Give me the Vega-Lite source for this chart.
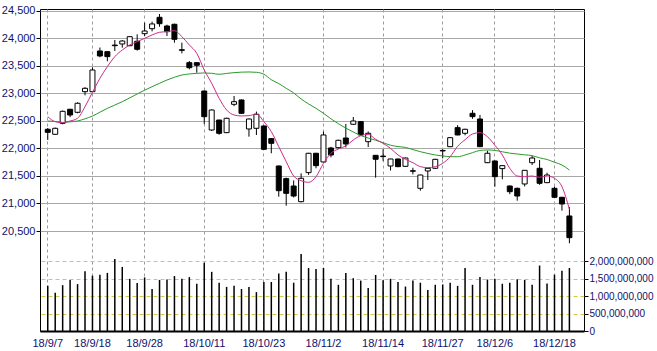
{
 "$schema": "https://vega.github.io/schema/vega-lite/v6.json",
 "width": 544, "height": 322,
 "autosize": {"type": "none"},
 "padding": {"left": 40, "top": 9, "right": 73, "bottom": 20},
 "background": "white",
 "config": {
  "view": {"stroke": "black", "strokeWidth": 1},
  "axis": {"labelFont": "Liberation Sans", "labelColor": "#10106a", "labelFontSize": 11}
 },
 "data": {"values": [
  {"d":"18/9/7","o":22349,"h":22373,"l":22155,"c":22294,"v":1290000000,"m5":22578,"m25":22500},
  {"d":"18/9/10","o":22258,"h":22380,"l":22250,"c":22367,"v":1090000000,"m5":22488,"m25":22490},
  {"d":"18/9/11","o":22458,"h":22690,"l":22440,"c":22676,"v":1310000000,"m5":22470,"m25":22475},
  {"d":"18/9/12","o":22713,"h":22720,"l":22570,"c":22609,"v":1460000000,"m5":22500,"m25":22485},
  {"d":"18/9/13","o":22658,"h":22840,"l":22640,"c":22822,"v":1340000000,"m5":22549,"m25":22500},
  {"d":"18/9/14","o":23033,"h":23115,"l":22967,"c":23094,"v":1710000000,"m5":22760,"m25":22540},
  {"d":"18/9/18","o":23033,"h":23476,"l":23025,"c":23427,"v":1580000000,"m5":23022,"m25":22590},
  {"d":"18/9/19","o":23773,"h":23836,"l":23658,"c":23682,"v":1610000000,"m5":23276,"m25":22660},
  {"d":"18/9/20","o":23760,"h":23765,"l":23585,"c":23670,"v":1660000000,"m5":23488,"m25":22730},
  {"d":"18/9/21","o":23880,"h":23973,"l":23773,"c":23869,"v":2060000000,"m5":23670,"m25":22790},
  {"d":"18/9/25","o":23900,"h":23970,"l":23833,"c":23954,"v":1830000000,"m5":23791,"m25":22851},
  {"d":"18/9/26","o":23869,"h":24040,"l":23860,"c":24033,"v":1490000000,"m5":23882,"m25":22920},
  {"d":"18/9/27","o":23949,"h":24076,"l":23779,"c":23804,"v":1370000000,"m5":23942,"m25":22991},
  {"d":"18/9/28","o":24087,"h":24287,"l":24045,"c":24136,"v":1530000000,"m5":24003,"m25":23060},
  {"d":"18/10/1","o":24178,"h":24306,"l":24130,"c":24264,"v":1200000000,"m5":24064,"m25":23124},
  {"d":"18/10/2","o":24385,"h":24445,"l":24215,"c":24269,"v":1460000000,"m5":24113,"m25":23185},
  {"d":"18/10/3","o":24227,"h":24250,"l":24045,"c":24124,"v":1470000000,"m5":24124,"m25":23245},
  {"d":"18/10/4","o":24258,"h":24270,"l":23924,"c":23985,"v":1570000000,"m5":24142,"m25":23295},
  {"d":"18/10/5","o":23795,"h":23924,"l":23730,"c":23785,"v":1490000000,"m5":24033,"m25":23336},
  {"d":"18/10/9","o":23560,"h":23590,"l":23440,"c":23469,"v":1540000000,"m5":23882,"m25":23355},
  {"d":"18/10/10","o":23560,"h":23570,"l":23378,"c":23513,"v":1350000000,"m5":23730,"m25":23367},
  {"d":"18/10/11","o":23045,"h":23050,"l":22446,"c":22578,"v":1950000000,"m5":23427,"m25":23373},
  {"d":"18/10/12","o":22336,"h":22710,"l":22320,"c":22700,"v":1690000000,"m5":23185,"m25":23367},
  {"d":"18/10/15","o":22518,"h":22520,"l":22251,"c":22276,"v":1380000000,"m5":22912,"m25":23349},
  {"d":"18/10/16","o":22288,"h":22560,"l":22280,"c":22549,"v":1260000000,"m5":22700,"m25":23365},
  {"d":"18/10/17","o":22803,"h":22955,"l":22770,"c":22851,"v":1290000000,"m5":22609,"m25":23379},
  {"d":"18/10/18","o":22882,"h":22890,"l":22630,"c":22640,"v":1200000000,"m5":22591,"m25":23388},
  {"d":"18/10/19","o":22355,"h":22545,"l":22215,"c":22536,"v":1260000000,"m5":22597,"m25":23391},
  {"d":"18/10/22","o":22367,"h":22671,"l":22245,"c":22622,"v":1110000000,"m5":22627,"m25":23385},
  {"d":"18/10/23","o":22409,"h":22420,"l":21975,"c":21985,"v":1400000000,"m5":22488,"m25":23350},
  {"d":"18/10/24","o":22179,"h":22190,"l":21913,"c":22094,"v":1400000000,"m5":22306,"m25":23250},
  {"d":"18/10/25","o":21682,"h":21690,"l":21124,"c":21233,"v":1640000000,"m5":22033,"m25":23180},
  {"d":"18/10/26","o":21452,"h":21470,"l":20960,"c":21185,"v":1690000000,"m5":21761,"m25":23094},
  {"d":"18/10/29","o":21318,"h":21420,"l":21110,"c":21136,"v":1380000000,"m5":21500,"m25":23010},
  {"d":"18/10/30","o":21033,"h":21549,"l":21020,"c":21458,"v":2200000000,"m5":21415,"m25":22900},
  {"d":"18/10/31","o":21561,"h":21920,"l":21520,"c":21913,"v":1800000000,"m5":21385,"m25":22810},
  {"d":"18/11/1","o":21913,"h":21920,"l":21640,"c":21688,"v":1770000000,"m5":21488,"m25":22730},
  {"d":"18/11/2","o":21755,"h":22306,"l":21745,"c":22246,"v":1800000000,"m5":21730,"m25":22640},
  {"d":"18/11/5","o":22009,"h":22030,"l":21840,"c":21882,"v":1490000000,"m5":21913,"m25":22540},
  {"d":"18/11/6","o":22015,"h":22160,"l":22000,"c":22149,"v":1320000000,"m5":21991,"m25":22450},
  {"d":"18/11/7","o":22191,"h":22446,"l":22020,"c":22082,"v":1660000000,"m5":22046,"m25":22370},
  {"d":"18/11/8","o":22440,"h":22573,"l":22430,"c":22500,"v":1510000000,"m5":22155,"m25":22300},
  {"d":"18/11/9","o":22488,"h":22500,"l":22230,"c":22246,"v":1440000000,"m5":22233,"m25":22235},
  {"d":"18/11/12","o":22124,"h":22310,"l":22027,"c":22276,"v":1230000000,"m5":22258,"m25":22190},
  {"d":"18/11/13","o":21876,"h":21880,"l":21470,"c":21804,"v":1600000000,"m5":22167,"m25":22150},
  {"d":"18/11/14","o":21862,"h":21985,"l":21776,"c":21852,"v":1450000000,"m5":22094,"m25":22105},
  {"d":"18/11/15","o":21682,"h":21815,"l":21600,"c":21809,"v":1490000000,"m5":22003,"m25":22060},
  {"d":"18/11/16","o":21809,"h":21815,"l":21660,"c":21670,"v":1400000000,"m5":21882,"m25":22035},
  {"d":"18/11/19","o":21676,"h":21835,"l":21665,"c":21827,"v":1270000000,"m5":21803,"m25":22020},
  {"d":"18/11/20","o":21595,"h":21650,"l":21530,"c":21587,"v":1440000000,"m5":21742,"m25":21980},
  {"d":"18/11/21","o":21276,"h":21525,"l":21233,"c":21518,"v":1380000000,"m5":21670,"m25":21942},
  {"d":"18/11/22","o":21591,"h":21650,"l":21427,"c":21640,"v":1170000000,"m5":21652,"m25":21910},
  {"d":"18/11/26","o":21640,"h":21812,"l":21630,"c":21803,"v":1320000000,"m5":21670,"m25":21882},
  {"d":"18/11/27","o":21955,"h":21985,"l":21821,"c":21965,"v":1330000000,"m5":21730,"m25":21865},
  {"d":"18/11/28","o":22033,"h":22205,"l":22025,"c":22197,"v":1380000000,"m5":21851,"m25":21851},
  {"d":"18/11/29","o":22379,"h":22425,"l":22240,"c":22246,"v":1290000000,"m5":22040,"m25":21851},
  {"d":"18/11/30","o":22276,"h":22360,"l":22240,"c":22349,"v":1800000000,"m5":22160,"m25":21882},
  {"d":"18/12/3","o":22640,"h":22697,"l":22540,"c":22579,"v":1320000000,"m5":22264,"m25":21924},
  {"d":"18/12/4","o":22536,"h":22610,"l":22025,"c":22033,"v":1540000000,"m5":22288,"m25":21965},
  {"d":"18/12/5","o":21742,"h":21960,"l":21735,"c":21913,"v":1470000000,"m5":22215,"m25":21973},
  {"d":"18/12/6","o":21773,"h":21780,"l":21306,"c":21488,"v":1490000000,"m5":22060,"m25":21965},
  {"d":"18/12/7","o":21634,"h":21700,"l":21440,"c":21688,"v":1350000000,"m5":21882,"m25":21940},
  {"d":"18/12/10","o":21318,"h":21330,"l":21170,"c":21215,"v":1380000000,"m5":21640,"m25":21915},
  {"d":"18/12/11","o":21276,"h":21290,"l":21051,"c":21136,"v":1480000000,"m5":21500,"m25":21900},
  {"d":"18/12/12","o":21355,"h":21610,"l":21310,"c":21603,"v":1460000000,"m5":21488,"m25":21885},
  {"d":"18/12/13","o":21742,"h":21864,"l":21700,"c":21827,"v":1320000000,"m5":21500,"m25":21870},
  {"d":"18/12/14","o":21640,"h":21791,"l":21340,"c":21367,"v":1870000000,"m5":21476,"m25":21830},
  {"d":"18/12/17","o":21379,"h":21560,"l":21370,"c":21518,"v":1360000000,"m5":21500,"m25":21800},
  {"d":"18/12/18","o":21276,"h":21306,"l":21100,"c":21113,"v":1610000000,"m5":21458,"m25":21750},
  {"d":"18/12/19","o":21113,"h":21120,"l":20870,"c":20991,"v":1720000000,"m5":21306,"m25":21700},
  {"d":"18/12/20","o":20773,"h":20936,"l":20277,"c":20379,"v":1800000000,"m5":20894,"m25":21609}
 ]},
 "encoding": {
  "x": {"field": "d", "type": "ordinal", "sort": null, "title": null,
   "scale": {"type": "band", "paddingInner": 0, "paddingOuter": 1, "align": 0.27},
   "axis": {"values": ["18/9/7","18/9/18","18/9/28","18/10/11","18/10/23","18/11/2","18/11/14","18/11/27","18/12/6","18/12/18"],
    "bandPosition": 0.5, "labelAngle": 0, "labelOverlap": false, "ticks": false, "labelPadding": 6,
    "grid": true, "gridColor": "#9a9a9a", "gridDash": [3,3], "gridWidth": 1,
    "domain": true, "domainColor": "black", "domainWidth": 2, "title": null}}
 },
 "layer": [
  {"layer": [
   {"mark": {"type": "rule", "color": "black", "strokeWidth": 1},
    "encoding": {
     "y": {"field": "l", "type": "quantitative", "title": null,
      "scale": {"domain": [18682, 24536], "nice": false, "zero": false},
      "axis": {"orient": "left", "title": null, "values": [20500,21000,21500,22000,22500,23000,23500,24000,24500],
       "labelExpr": "format(datum.value, ',')",
       "grid": true, "gridColor": "#a8a8a8", "gridWidth": 1, "domain": false, "tickSize": 4, "tickColor": "black", "labelPadding": 1}},
     "y2": {"field": "h"}}},
   {"mark": {"type": "bar", "size": 5, "stroke": "black", "strokeWidth": 1},
    "encoding": {
     "y": {"field": "o", "type": "quantitative", "title": null},
     "y2": {"field": "c"},
     "fill": {"condition": {"test": "datum.c > datum.o", "value": "white"}, "value": "black"}}},
   {"mark": {"type": "line", "color": "#2a9a2a", "strokeWidth": 1, "interpolate": "monotone"},
    "encoding": {"y": {"field": "m25", "type": "quantitative", "title": null}}},
   {"mark": {"type": "line", "color": "#cc2a8c", "strokeWidth": 1, "interpolate": "monotone"},
    "encoding": {"y": {"field": "m5", "type": "quantitative", "title": null}}}
  ]},
  {"mark": {"type": "rule", "color": "black", "strokeWidth": 1.5},
   "encoding": {
    "y": {"field": "v", "type": "quantitative", "title": null,
     "scale": {"domain": [0, 9200000000], "nice": false},
     "axis": {"orient": "right", "title": null, "values": [0, 500000000, 1000000000, 1500000000, 2000000000],
      "labelExpr": "format(datum.value, ',')",
      "grid": true, "gridColor": "#d6c84c", "gridDash": [4,3], "gridWidth": 1, "domain": false,
      "tickSize": 4, "tickColor": "black", "labelFontSize": 10, "labelPadding": 1}},
    "y2": {"datum": 0}}}
 ],
 "resolve": {"scale": {"y": "independent"}, "axis": {"y": "independent"}}
}
